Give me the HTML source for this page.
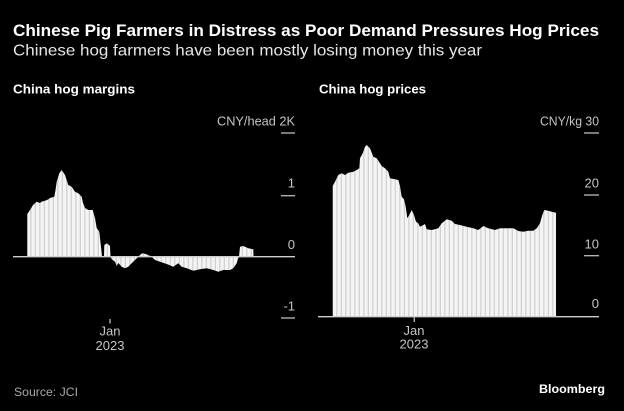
<!DOCTYPE html>
<html>
<head>
<meta charset="utf-8">
<style>
  html, body { margin:0; padding:0; background:#000; }
  body { width:624px; height:411px; overflow:hidden; }
  svg { display:block; }
  text { font-family: "Liberation Sans", sans-serif; }
</style>
</head>
<body>
<svg width="624" height="411" viewBox="0 0 624 411" xmlns="http://www.w3.org/2000/svg">
  <defs>
    <pattern id="stripes" patternUnits="userSpaceOnUse" width="4.5" height="10">
      <rect x="0" y="0" width="4.5" height="10" fill="#f4f4f4"/>
      <rect x="3.2" y="0" width="1.3" height="10" fill="#d2d2d2"/>
    </pattern>
  </defs>
  <rect width="624" height="411" fill="#000"/>

  <!-- Titles -->
  <text x="13" y="36" font-size="16.5" font-weight="bold" fill="#ffffff" textLength="586" lengthAdjust="spacingAndGlyphs">Chinese Pig Farmers in Distress as Poor Demand Pressures Hog Prices</text>
  <text x="13" y="55.5" font-size="16" fill="#e6e6e6" textLength="469" lengthAdjust="spacingAndGlyphs">Chinese hog farmers have been mostly losing money this year</text>

  <text x="13" y="93.5" font-size="13" font-weight="bold" fill="#ffffff" textLength="122" lengthAdjust="spacingAndGlyphs">China hog margins</text>
  <text x="319" y="93.5" font-size="13" font-weight="bold" fill="#ffffff" textLength="107" lengthAdjust="spacingAndGlyphs">China hog prices</text>

  <!-- LEFT CHART -->
  <polygon fill="url(#stripes)" points="
    27.3,256.7 27.3,214 30,210 33,205 36.7,201.7 40,203 42,201.5 45,200.7 48,199.5 50,198 54.3,196.7 55.5,190
    56.7,181.7 59.3,173.3 61.7,170 63,172 65,175 68.3,185 71.7,186.7 75,191.7 78.3,193.3 81.7,196.7
    83,203 85,208 88.3,210 92.7,210 95,218 96.7,228 99.3,231.7 101,246.7 102,256.7
    104,256.7 104.3,245 107,243.3 110,246 110.5,256.7
    111.7,259.3 115,261.7 116.7,266 118.3,263 121.7,266.7 125,268.3 128.3,266.7 131.7,263.3 135,260 138.3,256.7
    141,254 143,253.3 147,254.5 151.7,256.7 155,260 160,261.7 166.7,264 173.3,266.7 178.3,263.3 181.7,266.7
    186.7,268.3 193.3,270.7 200,269.3 206.7,268.3 213.3,270 218.3,271.7 223.3,270 230,270 233.3,268.3
    236.7,263.3 238.3,258 239,256.7 240,246.7 243.3,246 248.3,248.3 253.3,249.3 253.5,256.7"/>
  <line x1="13" y1="256.7" x2="295" y2="256.7" stroke="#cfcfcf" stroke-width="1.3"/>

  <!-- left ticks -->
  <g stroke="#bdbdbd" stroke-width="1.3">
    <line x1="281" y1="133" x2="295" y2="133"/>
    <line x1="281" y1="195.7" x2="295" y2="195.7"/>
    <line x1="281" y1="318" x2="295" y2="318"/>
    <line x1="110" y1="319" x2="110" y2="323.5"/>
  </g>
  <g font-size="13" fill="#c4c4c4" text-anchor="end">
    <text x="295" y="125.7" textLength="78" lengthAdjust="spacingAndGlyphs">CNY/head 2K</text>
    <text x="295" y="187.3">1</text>
    <text x="295" y="249">0</text>
    <text x="295" y="310.7">-1</text>
  </g>
  <g font-size="13" fill="#c4c4c4" text-anchor="middle">
    <text x="110" y="335.7">Jan</text>
    <text x="110" y="350">2023</text>
  </g>

  <!-- RIGHT CHART -->
  <polygon fill="url(#stripes)" points="
    332.7,316.7 332.7,186 335,181.7 338.3,175 341.7,173.3 345,175 348.3,172.7 353.3,171.7 356.7,170 359.3,168.3
    360,158.3 362.7,153.3 365,146.7 366.7,145 370,148.3 373.3,156.7 376.7,158.3 380,163.3 381.7,166 385,168.3
    388.3,171.7 390,178.3 395,179.3 398.3,180 400,186 401.7,196.7 404,199.3 405.7,206.7 407.3,218.3 409.3,215
    411.7,210 414,215 416,221.7 418.3,223.3 420,226.7 423.3,225 425,224 426.7,229.3 431.7,230 438.3,228.3
    441.7,223.3 446.7,219.3 451.7,220.7 455,224 460,225 466.7,226.7 473.3,228.3 478.3,230 483.3,226 488.3,228.3
    495,230 500,228.3 506.7,228.3 513.3,228.3 518.3,231 523.3,231.7 528.3,230.7 533.3,230.7 536.7,228.3 540,223.3
    542.3,215 544.3,210 548.3,210.7 551.7,211.7 556,212.7 556,316.7"/>
  <line x1="318" y1="316.7" x2="599" y2="316.7" stroke="#cfcfcf" stroke-width="1.3"/>

  <g stroke="#bdbdbd" stroke-width="1.3">
    <line x1="584" y1="133" x2="599" y2="133"/>
    <line x1="584" y1="195" x2="599" y2="195"/>
    <line x1="584" y1="255.7" x2="599" y2="255.7"/>
    <line x1="414.3" y1="317" x2="414.3" y2="322"/>
  </g>
  <g font-size="13" fill="#c4c4c4" text-anchor="end">
    <text x="599" y="125.7" textLength="59" lengthAdjust="spacingAndGlyphs">CNY/kg 30</text>
    <text x="599" y="187.3">20</text>
    <text x="599" y="248.3">10</text>
    <text x="599" y="308">0</text>
  </g>
  <g font-size="13" fill="#c4c4c4" text-anchor="middle">
    <text x="414" y="335">Jan</text>
    <text x="414" y="348.5">2023</text>
  </g>

  <!-- Footer -->
  <text x="14" y="396" font-size="12" fill="#a8a8a8" textLength="64" lengthAdjust="spacingAndGlyphs">Source: JCI</text>
  <text x="539" y="393" font-size="12" font-weight="bold" fill="#ffffff" textLength="66" lengthAdjust="spacingAndGlyphs">Bloomberg</text>
</svg>
</body>
</html>
